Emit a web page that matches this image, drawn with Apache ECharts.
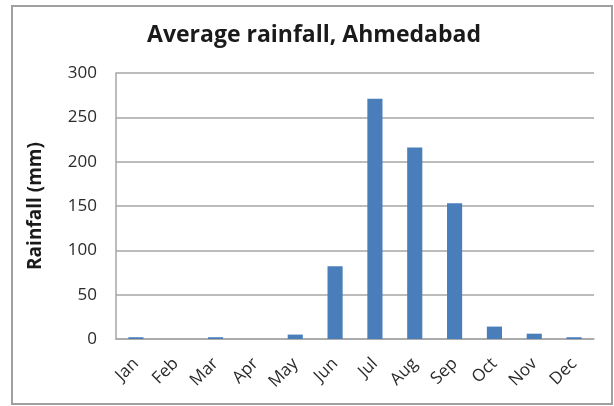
<!DOCTYPE html>
<html>
<head>
<meta charset="utf-8">
<script src="https://cdn.jsdelivr.net/npm/echarts@6/dist/echarts.min.js"></script>
<style>
html,body{margin:0;padding:0;background:#fff;}
#c{width:614px;height:406px;}
</style>
</head>
<body>
<div id="c"></div>
<script>
const months = ['Jan','Feb','Mar','Apr','May','Jun','Jul','Aug','Sep','Oct','Nov','Dec'];
const rainfall = [2, 0, 2, 0, 5, 82, 271, 216, 153, 14, 6, 2];
const yTicks = { min: 0, max: 300, interval: 50 };
const titleText = 'Average rainfall, Ahmedabad';
const yName = 'Rainfall (mm)';

const FONT = '"Open Sans", sans-serif';
const chart = echarts.init(document.getElementById('c'), null, {renderer: 'canvas'});
chart.setOption({
  animation: false,
  backgroundColor: '#fff',
  graphic: [{
    type: 'rect',
    shape: {x: 12, y: 6, width: 600, height: 398},
    style: {fill: 'none', stroke: '#a0a0a0', lineWidth: 2},
    silent: true
  }],
  title: {
    text: titleText,
    left: 309, top: 19, textAlign: 'center',
    textStyle: {fontFamily: FONT, fontSize: 23, fontWeight: 'bold', color: '#1a1a1a'}
  },
  grid: {left: 116, right: 20, top: 73, bottom: 67},
  xAxis: {
    type: 'category',
    data: months,
    axisTick: {show: false},
    axisLine: {lineStyle: {color: '#a6a6a6', width: 1.5}},
    axisLabel: {rotate: 45, interval: 0, margin: 22, fontFamily: FONT, fontSize: 17, color: '#2a2a2a'}
  },
  yAxis: {
    type: 'value',
    min: yTicks.min, max: yTicks.max, interval: yTicks.interval,
    name: yName, nameLocation: 'middle', nameGap: 71, nameRotate: 90,
    nameTextStyle: {fontFamily: FONT, fontSize: 19, fontWeight: 'bold', color: '#1a1a1a'},
    axisLine: {show: true, lineStyle: {color: '#a6a6a6', width: 1.5}},
    axisTick: {show: false},
    splitLine: {lineStyle: {color: '#a6a6a6', width: 1.5}},
    axisLabel: {margin: 19, fontFamily: FONT, fontSize: 17, color: '#2a2a2a'}
  },
  series: [{
    type: 'bar',
    data: rainfall,
    barWidth: '38%',
    itemStyle: {color: '#4a7ebb'}
  }]
});
</script>
</body>
</html>
